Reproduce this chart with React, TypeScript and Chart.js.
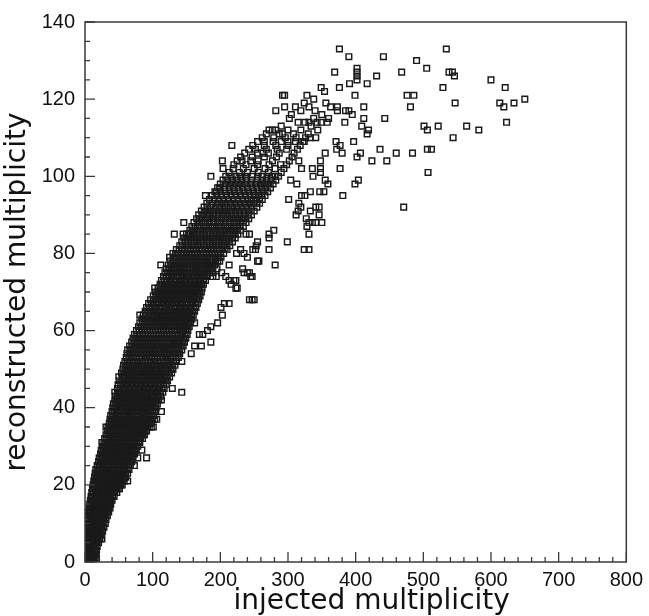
import { useEffect, useRef } from 'react';
import { Chart, registerables } from 'chart.js';

Chart.register(...registerables);

// tick labels
const xTicks = [0, 100, 200, 300, 400, 500, 600, 700, 800];
const yTicks = [0, 20, 40, 60, 80, 100, 120, 140];
const xMinorStep = 20;
const yMinorStep = 5;
const xTitle = 'injected multiplicity';
const yTitle = 'reconstructed multiplicity';

// dense band: [reconstructed, injected values...]
const coreRows: [number, number[]][] = [
  [0, [3, 8, 13]],
  [1, [2, 6, 11, 15, 17]],
  [2, [3, 8, 12, 16]],
  [3, [2, 6, 10, 14, 17]],
  [4, [4, 8, 13, 18]],
  [5, [2, 6, 11, 15, 20]],
  [6, [3, 8, 12, 17, 22, 25]],
  [7, [2, 7, 11, 16, 20, 24]],
  [8, [4, 8, 13, 18, 22, 26]],
  [9, [3, 7, 12, 16, 21, 25, 28]],
  [10, [4, 9, 13, 18, 23, 27, 30]],
  [11, [3, 8, 12, 17, 21, 26, 31]],
  [12, [5, 9, 14, 19, 24, 28, 33]],
  [13, [4, 8, 13, 17, 22, 27, 31, 35]],
  [14, [6, 10, 15, 20, 24, 29, 33, 37]],
  [15, [7, 11, 16, 21, 25, 30, 34, 38]],
  [16, [8, 12, 17, 22, 27, 31, 36, 40]],
  [17, [9, 14, 18, 23, 28, 33, 38, 43]],
  [18, [10, 15, 20, 25, 29, 34, 39, 44, 47]],
  [19, [11, 16, 21, 26, 31, 36, 41, 46, 51]],
  [20, [12, 17, 22, 27, 32, 37, 42, 47, 51, 55]],
  [21, [13, 18, 23, 29, 34, 39, 44, 49, 54, 58, 63]],
  [22, [14, 19, 24, 30, 35, 40, 45, 50, 55, 60]],
  [23, [15, 20, 26, 31, 36, 42, 47, 52, 57, 63]],
  [24, [16, 21, 27, 32, 38, 43, 48, 54, 59, 65]],
  [25, [18, 23, 29, 34, 40, 45, 51, 56, 62, 67, 73]],
  [26, [20, 25, 31, 36, 42, 47, 53, 58, 64, 69]],
  [27, [21, 26, 32, 38, 43, 49, 55, 60, 66, 71, 78, 91]],
  [28, [23, 28, 34, 40, 45, 51, 57, 62, 68, 73]],
  [29, [24, 30, 36, 42, 47, 53, 59, 64, 70, 75, 84]],
  [30, [26, 32, 38, 44, 50, 55, 61, 67, 72, 78]],
  [31, [25, 28, 34, 40, 46, 52, 58, 64, 70, 76, 81]],
  [32, [29, 35, 41, 47, 53, 59, 65, 71, 77, 82, 85]],
  [33, [31, 37, 43, 49, 55, 61, 67, 73, 79, 84, 88]],
  [34, [33, 39, 45, 51, 57, 63, 69, 75, 81, 86, 91]],
  [35, [31, 34, 40, 46, 52, 59, 65, 71, 77, 83, 89, 95, 101]],
  [36, [36, 42, 48, 54, 61, 67, 73, 79, 85, 91, 98]],
  [37, [37, 43, 49, 56, 62, 68, 74, 80, 87, 93, 100, 106]],
  [38, [38, 44, 51, 57, 63, 70, 76, 82, 89, 95, 101]],
  [39, [40, 46, 52, 59, 65, 71, 78, 84, 90, 97, 103, 113]],
  [40, [41, 47, 54, 60, 66, 73, 79, 86, 92, 98, 105]],
  [41, [42, 48, 55, 61, 68, 74, 81, 87, 94, 100, 107]],
  [42, [44, 50, 57, 63, 70, 76, 83, 89, 96, 102, 109, 113]],
  [43, [45, 51, 58, 64, 71, 78, 84, 91, 98, 104, 112]],
  [44, [44, 49, 53, 60, 66, 73, 80, 86, 93, 100, 107, 115, 143]],
  [45, [48, 55, 61, 68, 75, 82, 89, 96, 103, 110, 117, 129]],
  [46, [49, 56, 63, 70, 77, 84, 91, 98, 105, 112, 120]],
  [47, [51, 58, 65, 72, 79, 86, 93, 100, 108, 115, 122]],
  [48, [50, 55, 59, 66, 73, 80, 88, 95, 102, 110, 117, 125]],
  [49, [54, 61, 68, 75, 83, 90, 97, 105, 112, 120, 128]],
  [50, [56, 63, 70, 78, 85, 93, 100, 108, 115, 123, 130]],
  [51, [57, 64, 72, 79, 87, 94, 102, 110, 117, 125, 133]],
  [52, [59, 66, 74, 81, 89, 97, 104, 112, 120, 127, 135, 143]],
  [53, [61, 68, 76, 84, 91, 99, 107, 115, 122, 130, 138]],
  [54, [62, 70, 78, 86, 94, 101, 109, 117, 125, 133, 140, 157]],
  [55, [63, 67, 72, 80, 88, 96, 104, 112, 119, 127, 135, 143]],
  [56, [66, 74, 82, 90, 98, 106, 114, 122, 130, 138, 145, 162, 172]],
  [57, [69, 77, 85, 93, 101, 109, 117, 125, 132, 140, 147, 186]],
  [58, [71, 79, 87, 95, 103, 111, 119, 127, 135, 142, 149]],
  [59, [73, 81, 89, 97, 105, 113, 121, 129, 137, 144, 151, 169, 174]],
  [60, [76, 84, 92, 100, 108, 116, 124, 132, 140, 146, 152, 181]],
  [61, [79, 87, 95, 103, 111, 118, 126, 134, 141, 148, 154, 186]],
  [62, [81, 89, 97, 105, 113, 120, 128, 135, 143, 150, 156, 162, 196]],
  [63, [84, 92, 100, 107, 115, 122, 130, 137, 144, 151, 158]],
  [64, [81, 86, 94, 102, 109, 117, 124, 132, 139, 146, 153, 160, 203]],
  [65, [89, 97, 104, 112, 119, 127, 134, 141, 148, 155, 162]],
  [66, [91, 99, 106, 114, 121, 128, 136, 143, 150, 157, 164, 201]],
  [67, [94, 101, 109, 116, 123, 130, 137, 144, 152, 159, 166, 206, 213]],
  [68, [97, 104, 111, 118, 125, 132, 139, 146, 154, 161, 168, 243, 247, 250]],
  [69, [101, 108, 115, 122, 129, 136, 143, 150, 157, 163, 170]],
  [70, [104, 111, 118, 125, 132, 139, 146, 152, 159, 166, 172]],
  [71, [103, 108, 114, 121, 128, 135, 142, 149, 155, 162, 168, 173, 223, 225]],
  [72, [111, 118, 124, 131, 138, 144, 151, 158, 164, 170, 175, 216]]
];

// more events inside the dense band, between the ones above
const coreFill: [number, number[]][] = [
  [0, [5, 10]],
  [1, [4, 9, 13]],
  [2, [5, 10, 14]],
  [3, [4, 8, 12, 15]],
  [4, [2, 6, 10, 15]],
  [5, [4, 9, 13, 17]],
  [6, [5, 10, 15, 19]],
  [7, [4, 9, 13, 18, 22]],
  [8, [2, 6, 11, 15, 20, 24]],
  [9, [5, 10, 14, 19, 23]],
  [10, [6, 11, 16, 20, 25]],
  [11, [5, 10, 15, 19, 24, 28]],
  [12, [7, 12, 16, 21, 26, 30]],
  [13, [6, 11, 15, 20, 25, 29, 33]],
  [14, [8, 13, 17, 22, 27, 31, 35]],
  [15, [9, 14, 18, 23, 28, 32, 36]],
  [16, [10, 15, 20, 24, 29, 34, 38]],
  [17, [11, 16, 21, 26, 31, 36, 41]],
  [18, [12, 17, 23, 27, 32, 37, 42]],
  [19, [13, 19, 24, 29, 34, 39, 44, 49]],
  [20, [14, 20, 25, 30, 35, 40, 45, 49, 53]],
  [21, [15, 21, 26, 32, 37, 42, 47, 52, 56]],
  [22, [17, 22, 27, 33, 38, 43, 48, 53, 58]],
  [23, [18, 23, 29, 34, 39, 45, 50, 55, 60]],
  [24, [19, 24, 30, 35, 41, 46, 51, 57, 62]],
  [25, [21, 26, 32, 37, 43, 48, 54, 59, 65]],
  [26, [23, 28, 34, 39, 45, 50, 56, 61, 67]],
  [27, [24, 29, 35, 41, 46, 52, 58, 63, 69]],
  [28, [26, 31, 37, 43, 48, 54, 60, 65, 71]],
  [29, [27, 33, 39, 45, 50, 56, 62, 67, 73]],
  [30, [29, 35, 41, 47, 53, 58, 64, 70, 75]],
  [31, [31, 37, 43, 49, 55, 61, 67, 73, 79]],
  [32, [32, 38, 44, 50, 56, 62, 68, 74, 80]],
  [33, [34, 40, 46, 52, 58, 64, 70, 76, 82, 86]],
  [34, [36, 42, 48, 54, 60, 66, 72, 78, 84, 89]],
  [35, [37, 43, 49, 56, 62, 68, 74, 80, 86, 92, 98]],
  [36, [39, 45, 51, 58, 64, 70, 76, 82, 88, 95]],
  [37, [40, 46, 52, 59, 65, 71, 77, 84, 90, 97, 103]],
  [38, [41, 48, 54, 60, 67, 73, 79, 86, 92, 98]],
  [39, [43, 49, 56, 62, 68, 75, 81, 87, 94, 100]],
  [40, [44, 51, 57, 63, 70, 76, 83, 89, 95, 102]],
  [41, [45, 52, 58, 65, 71, 78, 84, 91, 97, 104]],
  [42, [47, 54, 60, 67, 73, 80, 86, 93, 99, 106]],
  [43, [48, 55, 61, 68, 75, 81, 88, 95, 101, 108]],
  [44, [51, 57, 63, 70, 77, 83, 90, 97, 104, 111]],
  [45, [52, 58, 65, 72, 79, 86, 93, 100, 107, 114]],
  [46, [53, 60, 67, 74, 81, 88, 95, 102, 109, 116]],
  [47, [55, 62, 69, 76, 83, 90, 97, 104, 111, 119]],
  [48, [57, 63, 70, 77, 84, 92, 99, 106, 113, 121]],
  [49, [58, 65, 72, 79, 87, 94, 101, 109, 116, 124]],
  [50, [60, 67, 74, 82, 89, 97, 104, 112, 119, 127]],
  [51, [61, 68, 76, 83, 91, 98, 106, 114, 121, 129]],
  [52, [63, 70, 78, 85, 93, 101, 108, 116, 124, 131]],
  [53, [65, 72, 80, 88, 95, 103, 111, 119, 126, 134]],
  [54, [66, 74, 82, 90, 98, 105, 113, 121, 129, 137]],
  [55, [68, 76, 84, 92, 100, 108, 116, 123, 131, 139]],
  [56, [70, 78, 86, 94, 102, 110, 118, 126, 134, 142]],
  [57, [73, 81, 89, 97, 105, 113, 121, 129, 136, 144]],
  [58, [75, 83, 91, 99, 107, 115, 123, 131, 139, 146]],
  [59, [77, 85, 93, 101, 109, 117, 125, 133, 141, 148]],
  [60, [80, 88, 96, 104, 112, 120, 128, 136, 143, 149]],
  [61, [83, 91, 99, 107, 115, 122, 130, 138, 145, 151]],
  [62, [85, 93, 101, 109, 117, 124, 132, 139, 147, 153]],
  [63, [88, 96, 104, 111, 119, 126, 134, 141, 148, 155]],
  [64, [90, 98, 106, 113, 121, 128, 136, 143, 150, 157]],
  [65, [93, 101, 108, 116, 123, 131, 138, 145, 152, 159]],
  [66, [95, 103, 110, 118, 125, 132, 140, 147, 154, 161]],
  [67, [98, 105, 113, 120, 127, 134, 141, 148, 156, 163]],
  [68, [101, 108, 115, 122, 129, 136, 143, 150, 158, 165]],
  [69, [105, 112, 119, 126, 133, 140, 147, 154, 160, 167]],
  [70, [108, 115, 122, 129, 136, 143, 149, 156, 163, 169]],
  [71, [111, 118, 125, 132, 139, 146, 152, 159, 165]],
  [72, [114, 121, 128, 135, 141, 148, 155, 161, 167, 172]],
  [73, [117, 125, 132, 140, 147, 154, 161, 168, 175]],
  [74, [120, 128, 135, 143, 150, 157, 164, 171, 177]],
  [75, [122, 130, 138, 145, 152, 160, 167, 174, 181]],
  [76, [124, 132, 140, 147, 155, 163, 170, 178, 185]],
  [77, [127, 135, 143, 151, 159, 167, 174, 182, 189]],
  [78, [130, 138, 146, 154, 162, 170, 178, 185, 193]],
  [79, [135, 144, 152, 160, 168, 176, 185, 193, 201]],
  [80, [134, 142, 150, 158, 166, 175, 184, 192, 200]],
  [81, [139, 147, 156, 164, 173, 182, 190, 199, 207]],
  [82, [144, 153, 162, 171, 180, 189, 197, 207]],
  [83, [148, 157, 166, 175, 184, 194, 203, 213]],
  [84, [151, 161, 170, 180, 189, 199, 208, 218]],
  [85, [155, 165, 175, 185, 195, 205, 214, 222]],
  [86, [160, 171, 182, 193, 204, 215, 225]],
  [87, [163, 175, 186, 197, 208, 219, 229]],
  [88, [167, 178, 190, 201, 213, 224, 234]],
  [89, [172, 184, 196, 208, 220, 232, 237]],
  [90, [174, 184, 194, 205, 217, 229, 241]],
  [91, [178, 190, 203, 215, 228, 242]],
  [92, [181, 193, 206, 218, 232, 246]],
  [93, [188, 202, 215, 229, 243, 254]],
  [94, [191, 205, 219, 233, 246, 258]],
  [95, [195, 209, 223, 237, 250, 261]],
  [96, [200, 214, 228, 242, 256]],
  [97, [206, 219, 233, 247, 261]],
  [98, [215, 229, 252, 265]],
  [99, [211, 225, 239, 262, 275]],
  [100, [216, 230, 255, 269, 281]]
];

// wider, thinner part of the band and the high tail
const upperRows: [number, number[]][] = [
  [73, [113, 121, 128, 136, 143, 150, 157, 164, 171, 178, 213, 220, 223]],
  [74, [116, 124, 131, 139, 146, 153, 160, 167, 174, 180, 189, 194, 208, 245, 247]],
  [75, [118, 126, 134, 141, 148, 156, 163, 170, 177, 184, 189, 202, 235, 240, 243]],
  [76, [120, 128, 136, 143, 151, 159, 166, 174, 181, 188, 195, 233]],
  [77, [112, 123, 131, 139, 147, 155, 163, 170, 178, 185, 192, 213, 281]],
  [78, [126, 134, 142, 150, 158, 166, 174, 181, 189, 196, 199, 255, 257]],
  [79, [125, 131, 140, 148, 156, 164, 172, 181, 189, 197, 240]],
  [80, [130, 137, 146, 154, 162, 171, 179, 188, 196, 205, 224, 235]],
  [81, [135, 143, 152, 160, 169, 178, 186, 195, 203, 210, 230, 248, 252, 272, 324, 331]],
  [82, [140, 149, 158, 167, 176, 185, 193, 202, 214, 253]],
  [83, [143, 152, 161, 171, 180, 189, 198, 208, 218, 255, 299]],
  [84, [146, 156, 166, 175, 185, 194, 204, 213, 222, 272]],
  [85, [132, 145, 150, 153, 160, 170, 180, 190, 200, 210, 219, 226, 238, 243, 272, 331]],
  [86, [155, 166, 177, 188, 199, 209, 220, 230, 279]],
  [87, [158, 169, 180, 191, 202, 213, 224, 234, 328]],
  [88, [146, 161, 173, 184, 196, 207, 219, 230, 238, 331, 336, 341, 350]],
  [89, [165, 169, 179, 190, 202, 214, 226, 242, 327]],
  [90, [168, 180, 189, 199, 211, 223, 235, 246, 312, 346]],
  [91, [172, 184, 197, 209, 222, 235, 250, 315, 333]],
  [92, [176, 186, 199, 212, 225, 239, 254, 319, 341, 346, 471]],
  [93, [180, 196, 208, 222, 236, 249, 258, 316]],
  [94, [184, 198, 212, 226, 240, 252, 262, 301]],
  [95, [178, 188, 202, 216, 230, 244, 256, 266, 320, 325, 381]],
  [96, [192, 194, 207, 221, 235, 249, 263, 270, 333, 347, 353]],
  [97, [196, 199, 213, 226, 240, 254, 267, 274]],
  [98, [200, 208, 222, 236, 245, 259, 271, 278, 313, 359, 399]],
  [99, [204, 218, 232, 246, 255, 268, 282, 304, 355, 404]],
  [100, [186, 208, 223, 237, 247, 262, 276, 286, 337]],
  [101, [213, 228, 240, 256, 271, 290, 348, 507]],
  [102, [204, 219, 234, 250, 266, 281, 294, 320, 336, 348, 377]],
  [103, [220, 238, 255, 272, 289, 298]],
  [104, [203, 225, 232, 245, 256, 277, 302, 316, 348, 424, 446]],
  [105, [230, 247, 265, 283, 306, 402]],
  [106, [236, 255, 263, 271, 287, 309, 355, 380, 407, 460, 484]],
  [107, [242, 252, 268, 284, 298, 314, 372, 436, 506, 512]],
  [108, [217, 248, 265, 282, 300, 318, 377]],
  [109, [255, 265, 278, 290, 300, 311, 322, 324, 371, 397]],
  [110, [262, 279, 296, 312, 326, 333, 341, 544]],
  [111, [268, 287, 292, 308, 330, 417]],
  [112, [272, 277, 282, 300, 319, 344, 419, 506, 582]],
  [113, [290, 334, 409, 501, 522, 564]],
  [114, [315, 325, 331, 343, 349, 358, 384, 623]],
  [115, [302, 338, 360, 412, 443]],
  [116, [305, 350, 395]],
  [117, [282, 319, 340, 373, 385, 390]],
  [118, [295, 311, 331, 363, 373, 412, 481, 619]],
  [119, [324, 356, 547, 613, 634]],
  [120, [338, 650]],
  [121, [292, 295, 328, 399, 476, 486]],
  [122, [354]],
  [123, [349, 376, 529, 621]],
  [124, [391, 417]],
  [125, [402, 600]],
  [126, [402, 431, 546]],
  [127, [369, 402, 468, 538, 543]],
  [128, [402, 505]],
  [130, [490]],
  [131, [390, 441]],
  [133, [376, 534]]
];

const toPoints = (rows: [number, number[]][]) =>
  rows.flatMap(([y, xs]) => xs.map((x) => ({ x, y })));

// frame box, inward ticks (major + minor) and the x axis title
const frameTicks = {
  id: 'frameTicks',
  afterDatasetsDraw(chart: any) {
    const { ctx, chartArea: a } = chart;
    const sx = chart.scales.x;
    const sy = chart.scales.y;
    ctx.save();
    ctx.strokeStyle = '#3a3a3a';
    ctx.lineWidth = 1.5;
    ctx.strokeRect(a.left, a.top, a.right - a.left, a.bottom - a.top);
    ctx.lineWidth = 1.3;
    ctx.beginPath();
    for (let v = sx.min; v <= sx.max; v += xMinorStep) {
      const px = sx.getPixelForValue(v);
      const len = xTicks.includes(v) ? 10 : 5;
      ctx.moveTo(px, a.bottom);
      ctx.lineTo(px, a.bottom - len);
    }
    for (let v = sy.min; v <= sy.max; v += yMinorStep) {
      const py = sy.getPixelForValue(v);
      const len = yTicks.includes(v) ? 10 : 5;
      ctx.moveTo(a.left, py);
      ctx.lineTo(a.left + len, py);
    }
    ctx.stroke();

    // x title sits a little right of the axis centre in the original
    ctx.fillStyle = '#111';
    ctx.font = '28px "DejaVu Sans"';
    ctx.textAlign = 'center';
    ctx.textBaseline = 'middle';
    ctx.fillText(xTitle, (a.left + a.right) / 2 + 16, chart.height - 14);
    ctx.restore();
  }
};

export default function App() {
  const canvasRef = useRef<HTMLCanvasElement | null>(null);

  useEffect(() => {
    if (!canvasRef.current) return;
    const chart = new Chart(canvasRef.current, {
      type: 'scatter',
      data: {
        datasets: [
          {
            data: [...toPoints(coreRows), ...toPoints(coreFill), ...toPoints(upperRows)],
            pointStyle: 'rect',
            pointRadius: 4,
            borderWidth: 1.45,
            borderColor: '#1a1a1a',
            backgroundColor: 'rgba(0,0,0,0)'
          }
        ]
      },
      options: {
        animation: false,
        responsive: true,
        maintainAspectRatio: false,
        events: [],
        layout: { padding: { top: 19, right: 20, left: 0, bottom: 0 } },
        plugins: { legend: { display: false }, tooltip: { enabled: false } },
        scales: {
          x: {
            type: 'linear',
            min: 0,
            max: 800,
            afterBuildTicks: (s: any) => {
              s.ticks = xTicks.map((value) => ({ value }));
            },
            afterFit: (s: any) => {
              s.height = 54;
            },
            grid: { display: false, drawTicks: false },
            border: { display: false },
            ticks: {
              autoSkip: false,
              maxRotation: 0,
              padding: 6,
              color: '#111',
              font: { family: 'Liberation Sans', size: 20 }
            }
          },
          y: {
            type: 'linear',
            min: 0,
            max: 140,
            afterBuildTicks: (s: any) => {
              s.ticks = yTicks.map((value) => ({ value }));
            },
            afterFit: (s: any) => {
              s.width = 85;
            },
            grid: { display: false, drawTicks: false },
            border: { display: false },
            ticks: {
              padding: 10,
              color: '#111',
              font: { family: 'Liberation Sans', size: 20 }
            },
            title: {
              display: true,
              text: yTitle,
              color: '#111',
              padding: { top: 4, bottom: 0 },
              font: { family: 'DejaVu Sans', size: 28, lineHeight: 1 }
            }
          }
        }
      },
      plugins: [frameTicks]
    });
    return () => chart.destroy();
  }, []);

  return (
    <div style={{ position: 'absolute', left: 0, top: 0, width: 649, height: 616, background: '#fff' }}>
      <canvas ref={canvasRef} />
    </div>
  );
}
